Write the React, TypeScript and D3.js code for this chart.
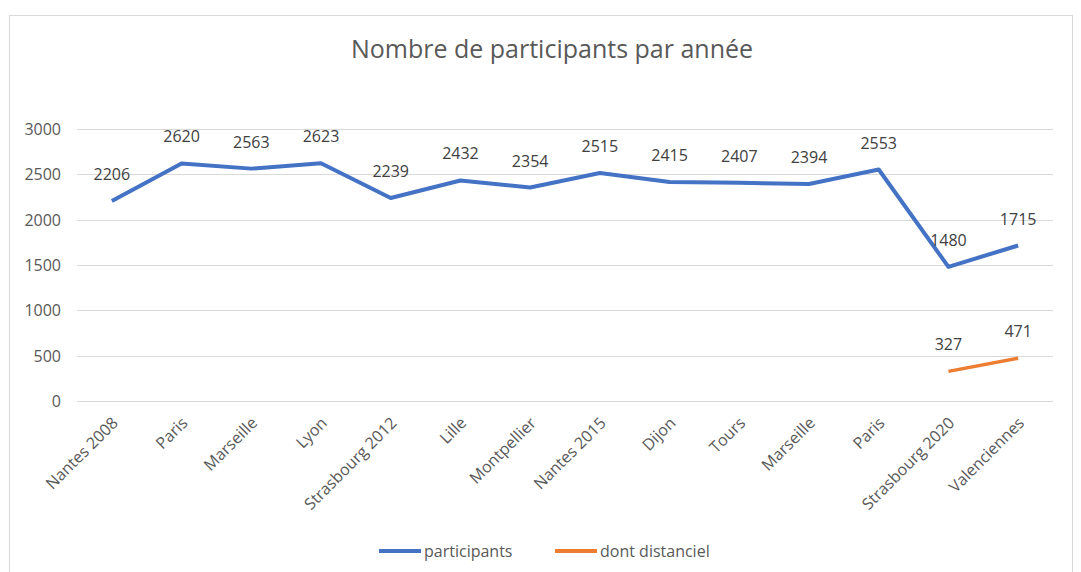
import React from 'react';
import * as d3 from 'd3';

const categories = ['Nantes 2008', 'Paris', 'Marseille', 'Lyon', 'Strasbourg 2012', 'Lille', 'Montpellier', 'Nantes 2015', 'Dijon', 'Tours', 'Marseille', 'Paris', 'Strasbourg 2020', 'Valenciennes'];
const participants = [2206, 2620, 2563, 2623, 2239, 2432, 2354, 2515, 2415, 2407, 2394, 2553, 1480, 1715];
const distanciel: (number | null)[] = [null, null, null, null, null, null, null, null, null, null, null, null, 327, 471];
const yTicks = [0, 500, 1000, 1500, 2000, 2500, 3000];

const W = 1081;
const H = 572;
const font = '"Open Sans", "Noto Sans", sans-serif';

const App: React.FC = () => {
  const left = 77;
  const right = 1053;
  const top = 129;
  const bottom = 401;
  const x = d3.scaleBand<number>().domain(categories.map((_, i) => i)).range([left, right]).padding(0);
  const y = d3.scaleLinear().domain([0, 3000]).range([bottom, top]);
  const cx = (i: number) => (x(i) || 0) + x.bandwidth() / 2;

  const line = d3.line<number | null>()
    .defined(d => d != null)
    .x((_, i) => cx(i))
    .y(d => y(d as number));

  return <svg width={W} height={H} style={{ position: 'absolute', left: 0, top: 0, fontFamily: font }}>
      <rect x={0} y={0} width={W} height={H} fill="white" />
      <rect x={9.5} y={15.5} width={1063} height={570} fill="white" stroke="#d9d9d9" />
      <text x={552} y={58} textAnchor="middle" fontSize={25} fill="#595959">Nombre de participants par année</text>
      {/* grid + y ticks */}
      {yTicks.map(t => <g key={t}>
          <line x1={left} x2={right} y1={Math.round(y(t)) + 0.5} y2={Math.round(y(t)) + 0.5} stroke="#d9d9d9" strokeWidth={1} />
          <text x={61} y={y(t) + 6} textAnchor="end" fontSize={16} fill="#595959">{t}</text>
        </g>)}
      {/* x labels */}
      {categories.map((c, i) => <text key={i} transform={`translate(${cx(i) + 7},${424}) rotate(-45)`} textAnchor="end" fontSize={16} fill="#595959">{c}</text>)}
      <path d={line(participants) || ''} fill="none" stroke="#4472C4" strokeWidth={4} strokeLinejoin="round" />
      <path d={line(distanciel) || ''} fill="none" stroke="#ED7D31" strokeWidth={3.5} strokeLinejoin="round" />
      {participants.map((v, i) => <text key={i} x={cx(i)} y={y(v) - 21} textAnchor="middle" fontSize={16} fill="#404040">{v}</text>)}
      {distanciel.map((v, i) => v == null ? null : <text key={i} x={cx(i)} y={y(v) - 21} textAnchor="middle" fontSize={16} fill="#404040">{v}</text>)}
      {/* legend */}
      <line x1={379} x2={421} y1={551} y2={551} stroke="#4472C4" strokeWidth={4} />
      <text x={424} y={557} fontSize={16} fill="#595959">participants</text>
      <line x1={555} x2={597} y1={551} y2={551} stroke="#ED7D31" strokeWidth={4} />
      <text x={600} y={557} fontSize={16} fill="#595959">dont distanciel</text>
    </svg>;
};

export default App;
